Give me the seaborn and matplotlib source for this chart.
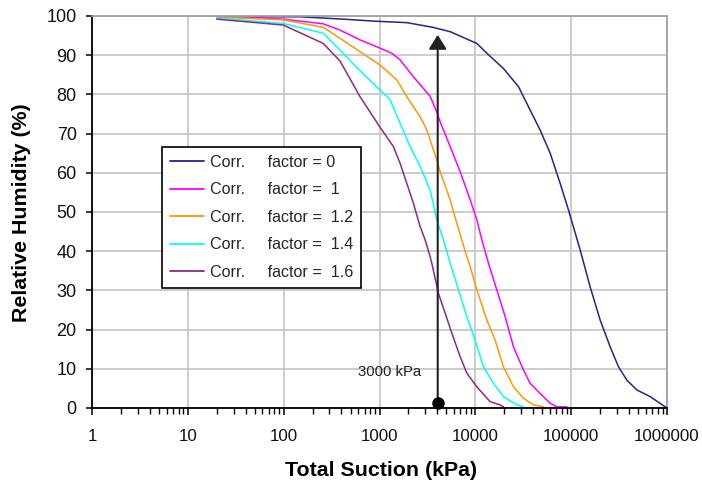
import numpy as np
import pandas as pd
import matplotlib
matplotlib.use("Agg")
import matplotlib.pyplot as plt
import seaborn as sns
from matplotlib.ticker import LogLocator, NullFormatter

# ---------------- data ----------------
series_labels = ["Corr.     factor = 0", "Corr.     factor =  1", "Corr.     factor =  1.2",
                 "Corr.     factor =  1.4", "Corr.     factor =  1.6"]
series_colors = ["#24248a", "#ff00ff", "#ff9900", "#00ffff", "#8a2a8a"]

suction_f0 = [20, 148, 417, 857, 1941, 3625, 5460, 10370, 13190, 19650, 28180, 37330, 47460,
              60400, 76740, 93800, 124200, 157800, 200900, 255400, 311800, 381200, 485300,
              668000, 1000000]
rh_f0 = [99.8, 99.8, 99.2, 98.7, 98.3, 97.1, 96.0, 93.0, 90.5, 86.6, 82.0, 76.0, 70.9,
         65.0, 57.3, 50.5, 40.3, 30.9, 22.4, 15.6, 10.5, 7.1, 4.6, 2.9, 0.0]

suction_f1 = [20, 30, 99, 259, 388, 627, 1014, 1344, 1641, 2259, 3377, 3960, 4292, 5460, 6940,
              8830, 10370, 11700, 13710, 16760, 20460, 24990, 31770, 37330, 47460, 60400,
              70960, 90150]
rh_f1 = [100.0, 100.0, 99.2, 98.0, 96.4, 93.9, 91.8, 90.5, 88.8, 84.5, 79.5, 75.5, 73.0, 66.7,
         60.3, 53.1, 48.0, 42.9, 36.9, 30.1, 23.3, 15.6, 9.7, 6.3, 3.7, 1.2, 0.3, 0.3]

suction_f12 = [20, 99, 259, 388, 627, 1014, 1516, 1928, 2654, 3118, 3960, 4292, 5460, 6415,
               8150, 8830, 10370, 13190, 16100, 19650, 24990, 31770, 40440, 51390]
rh_f12 = [99.7, 99.0, 97.1, 94.3, 90.9, 87.5, 83.7, 79.4, 74.3, 70.9, 63.3, 60.3, 53.1, 47.1,
          38.6, 36.1, 30.1, 22.4, 17.3, 10.5, 5.4, 2.5, 0.8, 0.3]

suction_f14 = [20, 99, 259, 388, 627, 1014, 1291, 1641, 2085, 2654, 3377, 3960, 4648, 5460,
               6670, 8150, 9950, 12170, 15460, 19650, 27110, 31770]
rh_f14 = [99.5, 98.1, 95.6, 91.3, 86.0, 81.1, 78.6, 72.6, 66.7, 61.6, 55.6, 48.0, 42.9, 37.0,
          30.1, 23.3, 17.3, 10.5, 6.3, 2.9, 0.8, 0.3]

suction_f16 = [20, 99, 259, 388, 627, 1014, 1396, 1641, 1928, 2259, 2654, 2992, 3377, 3516,
               4117, 4840, 5686, 6940, 8150, 10370, 14290, 18150, 19650]
rh_f16 = [99.2, 97.7, 93.0, 88.5, 79.4, 71.6, 66.7, 62.4, 57.3, 52.2, 46.3, 42.9, 38.6, 36.9,
          29.3, 24.2, 19.1, 13.1, 8.9, 5.4, 1.6, 0.8, 0.3]

x_tick_values = [1, 10, 100, 1000, 10000, 100000, 1000000]
x_tick_labels = ["1", "10", "100", "1000", "10000", "100000", "1000000"]
y_tick_values = [0, 10, 20, 30, 40, 50, 60, 70, 80, 90, 100]

arrow_suction = 4050
arrow_bottom = 1.4
arrow_top = 95.2
note_text = "3000 kPa"
note_x, note_y = 1285, 9.1

# ---------------- build long table ----------------
all_x = [suction_f0, suction_f1, suction_f12, suction_f14, suction_f16]
all_y = [rh_f0, rh_f1, rh_f12, rh_f14, rh_f16]
frames = []
for lab, xs, ys in zip(series_labels, all_x, all_y):
    frames.append(pd.DataFrame({"suction": xs, "rh": ys, "series": lab}))
df = pd.concat(frames, ignore_index=True)

# ---------------- style ----------------
sns.set_style("white")
plt.rcParams["font.family"] = ["Liberation Sans", "DejaVu Sans"]

fig = plt.figure(figsize=(7.02, 4.87), dpi=100)
ax = fig.add_axes([92 / 702, 1 - 408 / 487, 575 / 702, 392 / 487])

sns.lineplot(data=df, x="suction", y="rh", hue="series", hue_order=series_labels,
             palette=dict(zip(series_labels, series_colors)), sort=False, estimator=None,
             units="series", linewidth=1.1, ax=ax)

ax.set_xscale("log")
ax.set_xlim(1, 1e6)
ax.set_ylim(0, 100)
ax.set_xticks(x_tick_values)
ax.set_xticklabels(x_tick_labels)
ax.xaxis.set_minor_locator(LogLocator(base=10, subs=np.arange(2, 10), numticks=20))
ax.xaxis.set_minor_formatter(NullFormatter())
ax.set_yticks(y_tick_values)
ax.set_yticklabels([str(v) for v in y_tick_values])

ax.grid(True, which="major", color="#c8c8c8", linewidth=1.3)
ax.grid(False, which="minor")
ax.set_axisbelow(True)

for s in ["left", "bottom"]:
    ax.spines[s].set_color("black")
    ax.spines[s].set_linewidth(1.3)
for s in ["top", "right"]:
    ax.spines[s].set_color("#a0a0a0")
    ax.spines[s].set_linewidth(1.3)

ax.tick_params(axis="x", which="major", direction="out", length=5, width=1.1,
               color="black", pad=10, bottom=True, top=False, labelcolor="#111111",
               labelsize=12.2)
ax.tick_params(axis="x", which="minor", direction="out", length=4, width=1.0,
               color="black", bottom=True, top=False)
ax.tick_params(axis="y", which="major", direction="out", length=4.5, width=1.1,
               color="black", pad=6.5, left=True, right=False, labelcolor="#111111",
               labelsize=13)

ax.set_xlabel("Total Suction (kPa)", fontsize=15.4, fontweight="bold", color="black")
ax.set_ylabel("Relative Humidity (%)", fontsize=15.4, fontweight="bold", color="black")
ax.xaxis.label.set_va("center")
ax.xaxis.set_label_coords((381 - 92) / 575, (408 - 470) / 392)
ax.yaxis.label.set_va("center")
ax.yaxis.set_label_coords((22 - 92) / 575, (408 - 212.5) / 392)

# arrow with round end
ax.annotate("", xy=(arrow_suction, arrow_top), xytext=(arrow_suction, arrow_bottom),
            arrowprops=dict(arrowstyle="-|>,head_length=0.4,head_width=0.25",
                            color="#222222", lw=1.5, mutation_scale=21.6,
                            shrinkA=0, shrinkB=0), zorder=5)
ax.plot([arrow_suction], [arrow_bottom], marker="o", markersize=8, color="black",
        clip_on=False, zorder=6)
ax.text(note_x, note_y, note_text, ha="center", va="center", fontsize=10.7,
        color="#222222")

handles, labels = ax.get_legend_handles_labels()
leg = ax.legend(handles, labels, loc="upper left",
                bbox_to_anchor=((162 - 92) / 575, (408 - 146.7) / 392),
                borderaxespad=0, frameon=True, fancybox=False, shadow=False,
                framealpha=1, edgecolor="black", fontsize=11.6, handlelength=2.1,
                handletextpad=0.36, labelspacing=0.78, borderpad=0.5)
leg.get_frame().set_linewidth(1.2)
for line in leg.get_lines():
    line.set_linewidth(1.3)

fig.savefig("out.png", dpi=100)
